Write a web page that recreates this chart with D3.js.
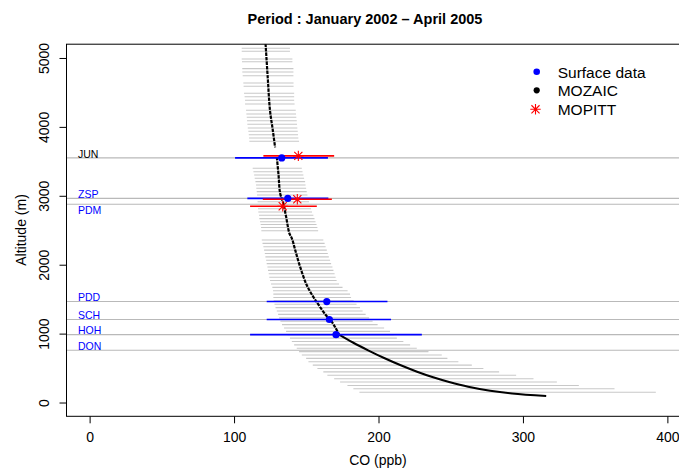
<!DOCTYPE html>
<html><head><meta charset="utf-8">
<script src="https://cdn.jsdelivr.net/npm/d3@7"></script>
<style>body{margin:0;background:#fff}svg{display:block;font-family:"Liberation Sans",Arial,Helvetica,sans-serif}</style>
</head><body><svg id="c" width="679" height="468"></svg>
<script>
const titleText = "Period : January 2002 \u2013 April 2005";
const xLabel = "CO (ppb)";
const yLabel = "Altitude (m)";
const xTicks = [0, 100, 200, 300, 400];
const yTicks = [0, 1000, 2000, 3000, 4000, 5000];

// MOZAIC variability (grey horizontal bars): altitude, low, high
const barAlt = [5141,5097,4985,4946,4845,4797,4743,4637,4589,4488,4438,4386,4332,4241,4187,4139,4090,4038,3984,3936,3887,3839,3791,
  3399,3350,3302,3254,3205,3157,3109,3060,3012,2914,2813,2765,2717,2669,2624,2583,2540,2493,
  2359,2310,2261,2212,2162,2113,2064,2015,1966,1917,1868,1819,1770,1720,1671,1622,1573,1524,1475,1426,1377,1328,1279,1229,1180,1131,1082,1033,984,935,886,837,788,739,690,641,592,542,493,444,395,346,297,248,199,150];
const barLow = [105.3,105.3,105.3,105.5,105.7,105.7,106.0,106.4,106.6,106.9,107.3,107.6,107.6,108.3,108.5,108.8,109.0,109.2,109.5,109.9,110.2,110.4,110.6,
  112.9,113.4,113.9,114.3,114.8,115.2,115.4,115.7,115.9,116.3,116.6,116.8,117.3,117.5,118.0,118.4,118.7,118.9,
  119.2,119.7,120.3,120.8,121.3,121.7,122.2,122.6,123.1,123.5,124.0,124.4,124.9,125.6,126.5,127.0,127.2,127.2,127.4,128.0,128.7,129.6,130.5,131.2,132.1,133.2,134.6,136.0,137.0,138.7,140.0,141.6,143.4,145.0,146.9,149.9,151.5,154.5,157.7,161.8,164.6,169.3,173.4,178.5,182.6,186.8];
const barHigh = [138.7,138.7,140.4,140.4,141.1,141.1,141.1,141.2,141.2,141.6,141.6,141.6,141.9,142.7,142.9,143.1,143.4,143.6,143.8,144.1,144.3,144.5,145.0,
  146.9,147.4,148.0,148.5,149.2,149.5,149.9,150.3,150.8,151.9,153.3,154.0,154.9,155.7,156.4,157.1,157.7,158.2,
  161.8,162.7,163.4,164.2,164.9,165.6,166.5,167.2,168.1,168.8,169.6,170.3,171.0,172.7,175.1,178.6,180.3,181.0,182.8,184.8,187.2,189.0,191.1,193.5,195.9,199.4,203.9,208.0,210.5,212.7,217.2,221.9,226.5,234.6,243.8,247.7,255.3,264.6,272.6,283.5,295.3,307.3,323.5,338.7,363.4,392.0];

// MOZAIC mean profile (two pieces)
const mozAltUpper = [5210, 4720, 4235, 3955, 3704];
const mozCoUpper  = [121.8, 123.3, 124.9, 126.8, 128.4];
const mozAltLower = [3560, 3300, 3036, 2891, 2700, 2456, 2383, 2200, 1971, 1705, 1512, 1465, 1270, 1205, 1100, 985, 871, 758, 646, 544, 447, 366, 298, 229, 171, 131, 94];
const mozCoLower  = [129.6, 130.8, 131.9, 134.1, 136.0, 138.3, 140.0, 142.5, 145.7, 150.3, 155.5, 157.0, 163.5, 166.5, 169.8, 172.7, 182.3, 192.8, 203.9, 215.0, 226.7, 237.8, 248.9, 262.1, 277.3, 292.5, 316.1];

// Surface stations
const stationCode = ["JUN", "ZSP", "PDM", "PDD", "SCH", "HOH", "DON"];
const stationAlt  = [3550, 2962, 2877, 1465, 1205, 985, 758];

const surfAlt  = [3550, 2962, 1465, 1205, 985];
const surfMean = [133.0, 137.2, 164.2, 166.0, 170.6];
const surfLow  = [100.7, 109.2, 122.6, 122.6, 111.1];
const surfHigh = [165.0, 165.3, 206.2, 208.7, 230.0];

const mopAlt  = [3580, 2950, 2848];
const mopMean = [144.5, 143.8, 133.7];
const mopLow  = [120.3, 119.9, 111.1];
const mopHigh = [169.3, 167.7, 157.3];

const legendLabels = ["Surface data", "MOZAIC", "MOPITT"];

const svg = d3.select("#c");
const L = 66.5, R = 690.5, T = 44.2, B = 416.3;
const x = d3.scaleLinear().domain([-16, 416]).range([L, R]);
const y = d3.scaleLinear().domain([-200, 5200]).range([B, T]);

svg.append("defs").append("clipPath").attr("id", "clip")
  .append("rect").attr("x", L).attr("y", T).attr("width", R - L).attr("height", B - T);
const plot = svg.append("g").attr("clip-path", "url(#clip)");

// grey variability bars
plot.append("g").selectAll("line").data(d3.range(barAlt.length)).join("line")
  .attr("x1", i => x(barLow[i])).attr("x2", i => x(barHigh[i]))
  .attr("y1", i => y(barAlt[i])).attr("y2", i => y(barAlt[i]))
  .attr("stroke", "#c8c8c8").attr("stroke-width", 1.1);

// station lines
plot.append("g").selectAll("line").data(stationAlt).join("line")
  .attr("x1", L).attr("x2", R).attr("y1", d => y(d)).attr("y2", d => y(d))
  .attr("stroke", "#b9b9b9").attr("stroke-width", 1.1);

// MOZAIC mean
const line = d3.line().x(d => x(d[0])).y(d => y(d[1])).curve(d3.curveCatmullRom.alpha(0.5));
const up = mozAltUpper.map((a, i) => [mozCoUpper[i], a]);
const lo = mozAltLower.map((a, i) => [mozCoLower[i], a]);
const loA = lo.filter(d => d[1] >= 985), loB = lo.filter(d => d[1] <= 1100);
plot.append("path").attr("d", line(up)).attr("fill", "none").attr("stroke", "#000").attr("stroke-width", 2.2).attr("stroke-dasharray", "3.5,1");
plot.append("path").attr("d", line(loA)).attr("fill", "none").attr("stroke", "#000").attr("stroke-width", 2.2).attr("stroke-dasharray", "3.5,1");
plot.append("path").attr("d", line(loB.filter(d => d[1] <= 985))).attr("fill", "none").attr("stroke", "#000").attr("stroke-width", 2);

// surface bars & MOPITT bars
plot.append("g").selectAll("line").data(d3.range(surfAlt.length)).join("line")
  .attr("x1", i => x(surfLow[i])).attr("x2", i => x(surfHigh[i]))
  .attr("y1", i => y(surfAlt[i])).attr("y2", i => y(surfAlt[i]))
  .attr("stroke", "#0000ff").attr("stroke-width", 1.6);
plot.append("g").selectAll("line").data(d3.range(mopAlt.length)).join("line")
  .attr("x1", i => x(mopLow[i])).attr("x2", i => x(mopHigh[i]))
  .attr("y1", i => y(mopAlt[i])).attr("y2", i => y(mopAlt[i]))
  .attr("stroke", "#ff0000").attr("stroke-width", 1.6);

plot.append("g").selectAll("circle").data(d3.range(surfAlt.length)).join("circle")
  .attr("cx", i => x(surfMean[i])).attr("cy", i => y(surfAlt[i])).attr("r", 3.6)
  .attr("fill", "#0000ff");

function star(g, cx, cy, s) {
  const d = s * 0.78;
  g.append("path").attr("d",
    `M${cx - s},${cy}L${cx + s},${cy}M${cx},${cy - s}L${cx},${cy + s}` +
    `M${cx - d},${cy - d}L${cx + d},${cy + d}M${cx - d},${cy + d}L${cx + d},${cy - d}`)
    .attr("stroke", "#ff0000").attr("stroke-width", 1.1).attr("fill", "none");
}
const sg = plot.append("g");
mopAlt.forEach((a, i) => star(sg, x(mopMean[i]), y(a), 5.2));

// station labels
const lab = svg.append("g").attr("font-size", 10.5);
stationCode.forEach((c, i) => {
  const yy = y(stationAlt[i]);
  lab.append("text").attr("x", 78).attr("y", c === "PDM" ? yy + 9.5 : yy - 0.3)
    .attr("fill", c === "JUN" ? "#000" : "#0000ff").text(c);
});

// box
svg.append("rect").attr("x", L).attr("y", T).attr("width", R - L).attr("height", B - T)
  .attr("fill", "none").attr("stroke", "#000").attr("stroke-width", 1);

// axes
const xa = svg.append("g").attr("transform", `translate(0,${B})`)
  .call(d3.axisBottom(x).tickValues(xTicks).tickSize(7).tickFormat(d3.format("d")));
xa.select(".domain").remove();
xa.selectAll("line").attr("stroke", "#000");
xa.selectAll("text").attr("font-size", 14).attr("font-family", null).attr("y", 16).attr("dy", "0.71em").attr("fill", "#000");

const ya = svg.append("g").attr("transform", `translate(${L},0)`)
  .call(d3.axisLeft(y).tickValues(yTicks).tickSize(7).tickFormat(d3.format("d")));
ya.select(".domain").remove();
ya.selectAll("line").attr("stroke", "#000");
ya.selectAll("text").attr("font-size", 14).attr("font-family", null)
  .attr("transform", "rotate(-90)").attr("x", 0).attr("y", -18).attr("dy", 0)
  .attr("text-anchor", "middle").attr("fill", "#000");

// titles
svg.append("text").attr("x", 365).attr("y", 24).attr("text-anchor", "middle")
  .attr("font-size", 14.5).attr("font-weight", "bold").text(titleText);
svg.append("text").attr("x", 378).attr("y", 465).attr("text-anchor", "middle")
  .attr("font-size", 14).text(xLabel);
svg.append("text").attr("transform", "translate(26,230) rotate(-90)").attr("text-anchor", "middle")
  .attr("font-size", 14).text(yLabel);

// legend
const lg = svg.append("g");
lg.append("circle").attr("cx", 536.7).attr("cy", 71.7).attr("r", 3.3).attr("fill", "#0000ff");
lg.append("circle").attr("cx", 536.7).attr("cy", 90.3).attr("r", 3.1).attr("fill", "#000");
star(lg, 535.5, 109.3, 5.2);
legendLabels.forEach((t, i) => {
  lg.append("text").attr("x", 557.7).attr("y", 77.5 + i * 18.8).attr("font-size", 15.5).text(t);
});
</script></body></html>
